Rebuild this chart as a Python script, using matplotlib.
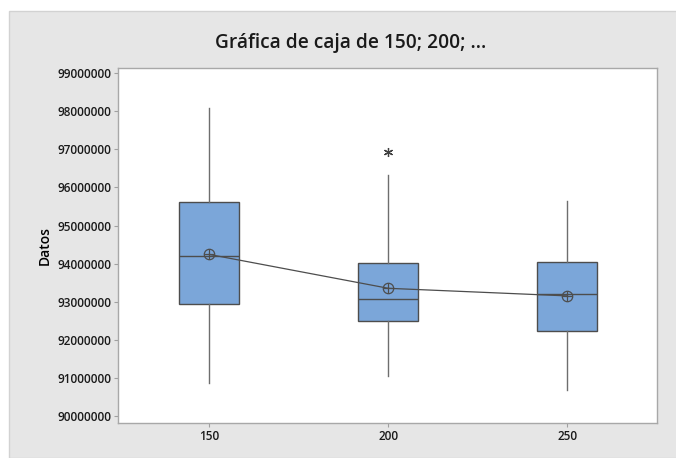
import matplotlib.pyplot as plt
from matplotlib.patches import Rectangle

# box statistics
groups = ['150', '200', '250']
q1 = [92.94e6, 92.48e6, 92.23e6]
median = [94.20e6, 93.07e6, 93.19e6]
q3 = [95.61e6, 94.02e6, 94.03e6]
whisker_low = [90.85e6, 91.05e6, 90.67e6]
whisker_high = [98.10e6, 96.34e6, 95.64e6]
means = [94.24e6, 93.35e6, 93.15e6]
outliers = [[], [96.94e6], []]

yticks = [90000000, 91000000, 92000000, 93000000, 94000000,
          95000000, 96000000, 97000000, 98000000, 99000000]

plt.rcParams['font.family'] = ['Open Sans', 'DejaVu Sans']

fig = plt.figure(figsize=(6.76, 4.58), dpi=100)
fig.patch.set_facecolor('white')
# gray panel behind everything
fig.patches.append(Rectangle((9 / 676, 0), 1, 1 - 11 / 458, transform=fig.transFigure,
                             facecolor='#e6e6e6', edgecolor='#d2d2d2', lw=1, zorder=-10))

ax = fig.add_axes([118 / 676, 1 - 423 / 458, (657 - 118) / 676, (423 - 68) / 458])
ax.set_facecolor('white')

stats = []
for i in range(len(groups)):
    stats.append({'label': groups[i], 'q1': q1[i], 'med': median[i], 'q3': q3[i],
                  'whislo': whisker_low[i], 'whishi': whisker_high[i],
                  'fliers': outliers[i], 'mean': means[i]})

positions = list(range(1, len(groups) + 1))
ax.bxp(stats, positions=positions, widths=0.335, patch_artist=True, showcaps=False,
       boxprops=dict(facecolor='#7ba6d9', edgecolor='#4d4d4d', linewidth=1.0),
       medianprops=dict(color='#4d4d4d', linewidth=1.0),
       whiskerprops=dict(color='#6e6e6e', linewidth=1.0),
       flierprops=dict(marker=(6, 2, 0), markersize=6.5, markeredgecolor='#404040',
                       markeredgewidth=0.9, linestyle='none'))

# mean connect line and circled-cross markers
ax.plot(positions, means, color='#4d4d4d', lw=0.9, zorder=5)
ax.plot(positions, means, linestyle='none', marker='o', markersize=7.5,
        markerfacecolor='none', markeredgecolor='#4d4d4d', markeredgewidth=0.9, zorder=6)
ax.plot(positions, means, linestyle='none', marker='+', markersize=7.5,
        markeredgecolor='#4d4d4d', markeredgewidth=0.9, zorder=6)

ax.set_xlim(0.49, 3.5)
ax.set_ylim(89.81e6, 99.14e6)
ax.set_yticks(yticks)
ax.set_yticklabels([str(v) for v in yticks], fontsize=8.5, fontweight='semibold', color='#1a1a1a')
ax.set_xticks(positions)
ax.set_xticklabels(groups, fontsize=8.5, fontweight='semibold', color='#1a1a1a')
ax.tick_params(axis='both', direction='out', length=3, width=0.8, color='#a0a0a0', pad=2)

for sp in ax.spines.values():
    sp.set_color('#a8a8a8')
    sp.set_linewidth(1.0)

ax.set_ylabel('Datos', fontsize=10, fontweight='semibold', labelpad=4)
fig.text(351 / 676, 1 - 43 / 458, 'Gráfica de caja de 150; 200; ...', ha='center', va='center',
         fontsize=13.8, fontweight='semibold', color='#1a1a1a')

fig.savefig('out.png', dpi=100, facecolor=fig.get_facecolor())
